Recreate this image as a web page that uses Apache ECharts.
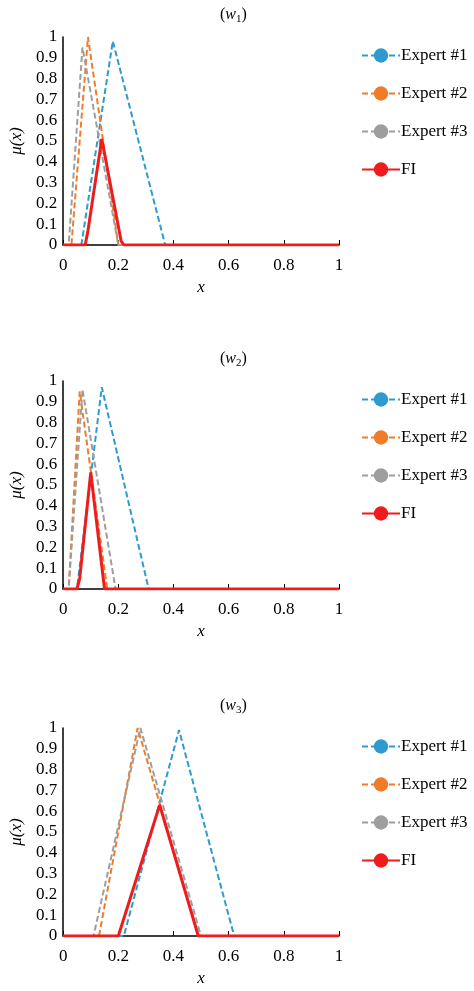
<!DOCTYPE html>
<html><head><meta charset="utf-8">
<script src="https://cdn.jsdelivr.net/npm/echarts@6/dist/echarts.min.js"></script>
<style>html,body{margin:0;background:#fff}#c{width:474px;height:991px}</style>
</head><body><div id="c"></div>
<script>
// membership functions, [x, mu] pairs
var names = ['Expert #1', 'Expert #2', 'Expert #3', 'FI'];
var colors = ['#2e9bd0', '#f07c2a', '#9e9e9e', '#ee1c1c'];
var w1E1 = [[0,0],[0.066,0],[0.18,0.98],[0.37,0],[1,0]];
var w1E2 = [[0,0],[0.03,0],[0.09,1],[0.2,0],[1,0]];
var w1E3 = [[0,0],[0.02,0],[0.07,0.95],[0.2,0],[1,0]];
var w1FI = [[0,0],[0.08,0],[0.09,0.07],[0.14,0.51],[0.21,0.02],[0.22,0],[1,0]];
var w2E1 = [[0,0],[0.05,0],[0.14,0.97],[0.31,0],[1,0]];
var w2E2 = [[0,0],[0.02,0],[0.06,0.95],[0.16,0],[1,0]];
var w2E3 = [[0,0],[0.02,0],[0.07,0.96],[0.19,0],[1,0]];
var w2FI = [[0,0],[0.05,0],[0.06,0.05],[0.1,0.56],[0.15,0],[1,0]];
var w3E1 = [[0,0],[0.22,0],[0.42,0.99],[0.62,0],[1,0]];
var w3E2 = [[0,0],[0.13,0],[0.27,1],[0.49,0],[1,0]];
var w3E3 = [[0,0],[0.11,0],[0.28,1],[0.5,0],[1,0]];
var w3FI = [[0,0],[0.2,0],[0.35,0.63],[0.49,0],[1,0]];
var data = [[w1E1,w1E2,w1E3,w1FI],[w2E1,w2E2,w2E3,w2FI],[w3E1,w3E2,w3E3,w3FI]];

var font = 'Liberation Serif';
var tops = [37, 381, 728];
var grids = [], xAxes = [], yAxes = [], series = [], legends = [], texts = [];
var subs = ['1', '2', '3'];
for (var g = 0; g < 3; g++) {
	grids.push({left: 62, width: 277, top: tops[g], height: 208});
	xAxes.push({type: 'value', gridIndex: g, min: 0, max: 1, interval: 0.2,
		name: 'x', nameLocation: 'middle', nameGap: 34,
		nameTextStyle: {fontFamily: font, fontStyle: 'italic', fontSize: 17, color: '#000'},
		axisLine: {lineStyle: {color: '#000', width: 1.5}},
		axisTick: {show: true, inside: true, length: 5, lineStyle: {color: '#000'}},
		axisLabel: {fontFamily: font, fontSize: 17, color: '#000', margin: 12},
		splitLine: {show: false}});
	yAxes.push({type: 'value', gridIndex: g, min: 0, max: 1, interval: 0.1,
		name: 'μ(x)', nameLocation: 'middle', nameGap: 37,
		nameTextStyle: {fontFamily: font, fontStyle: 'italic', fontSize: 17, color: '#000'},
		axisLine: {show: true, lineStyle: {color: '#000', width: 1.5}},
		axisTick: {show: false},
		axisLabel: {fontFamily: font, fontSize: 17, color: '#000', margin: 6,
			formatter: function (v) { return +v.toFixed(1) + ''; }},
		splitLine: {show: false}});
	for (var s = 0; s < 4; s++) {
		series.push({type: 'line', name: names[s], xAxisIndex: g, yAxisIndex: g,
			data: data[g][s], symbol: 'none', color: colors[s], z: s == 3 ? 5 : 2,
			lineStyle: {width: s == 3 ? 3 : 2, type: s == 3 ? 'solid' : [6, 3], color: colors[s]}});
	}
	legends.push({orient: 'vertical', left: 356, top: tops[g] + 5, itemGap: 21,
		itemWidth: 38, itemHeight: 18,
		data: names,
		textStyle: {fontFamily: font, fontSize: 17, color: '#000', padding: [0,0,0,-4]}});
	texts.push({type: 'text', left: 220, top: tops[g] - 30,
		style: {rich: {i: {fontFamily: font, fontStyle: 'italic', fontSize: 16}, s: {fontFamily: font, fontSize: 11, padding: [8,0,0,0]}, n: {fontFamily: font, fontSize: 16}},
			text: '{n|(}{i|w}{s|' + subs[g] + '}{n|)}', fill: '#000'}});
}
var chart = echarts.init(document.getElementById('c'));
chart.setOption({
	animation: false,
	grid: grids, xAxis: xAxes, yAxis: yAxes, series: series, legend: legends, graphic: texts
});
</script>
</body></html>
